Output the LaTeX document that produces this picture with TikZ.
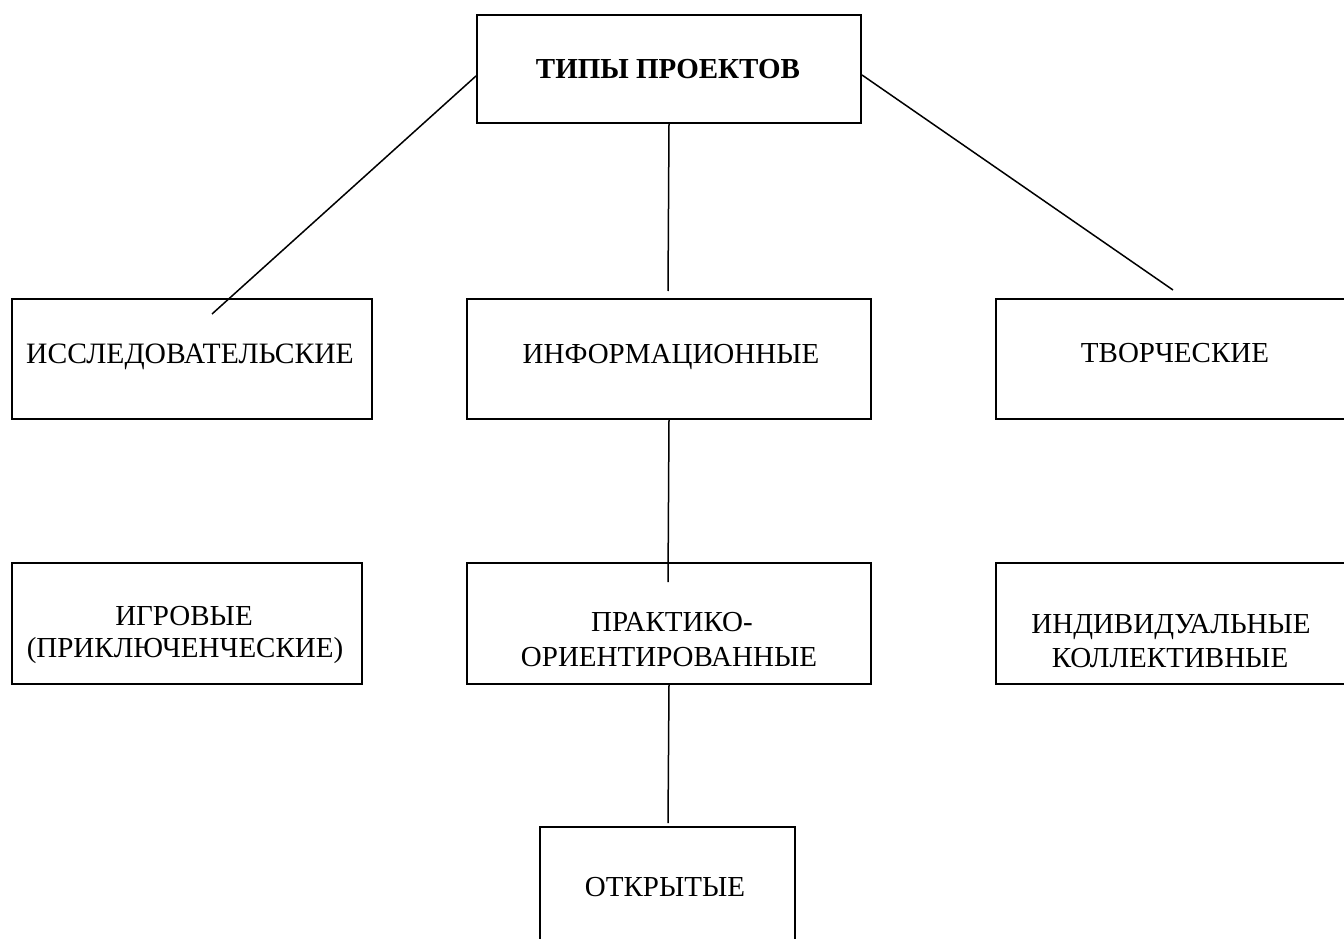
\documentclass[tikz,border=0pt]{standalone}
\usepackage{fontspec}
\setmainfont{Liberation Serif}
\begin{document}
\begin{tikzpicture}[x=1pt,y=-1pt,
  box/.style={draw=black,line width=2pt,rectangle,inner sep=0pt,anchor=north west},
  lbl/.style={inner sep=0pt,anchor=base,font=\fontsize{29}{32}\selectfont},
  conn/.style={draw=black,line width=1.5pt}]
\useasboundingbox (0,0) rectangle (1344,939);
% boxes
\node[box,minimum width=384pt,minimum height=108pt] (tp) at (476,14) {};
\node[box,minimum width=360pt,minimum height=120pt] (isl) at (11,298) {};
\node[box,minimum width=404pt,minimum height=120pt] (inf) at (466,298) {};
\node[box,minimum width=360pt,minimum height=120pt] (tvo) at (995,298) {};
\node[box,minimum width=350pt,minimum height=121pt] (igr) at (11,562) {};
\node[box,minimum width=404pt,minimum height=121pt] (pra) at (466,562) {};
\node[box,minimum width=360pt,minimum height=121pt] (ind) at (995,562) {};
\node[box,minimum width=255pt,minimum height=130pt] (otk) at (539,826) {};
% labels
\node[lbl,font=\fontsize{29}{32}\selectfont\bfseries] (tpt) at (668,79) {ТИПЫ ПРОЕКТОВ};
\node[lbl,font=\fontsize{29.6}{32}\selectfont] (islt) at (190,363) {ИССЛЕДОВАТЕЛЬСКИЕ};
\node[lbl] (inft) at (671,363) {ИНФОРМАЦИОННЫЕ};
\node[lbl] (tvot) at (1175,362) {ТВОРЧЕСКИЕ};
\node[lbl] (igrt1) at (184,625) {ИГРОВЫЕ};
\node[lbl] (igrt2) at (185,657) {(ПРИКЛЮЧЕНЧЕСКИЕ)};
\node[lbl] (prat1) at (672,631) {ПРАКТИКО-};
\node[lbl] (prat2) at (669,666) {ОРИЕНТИРОВАННЫЕ};
\node[lbl] (indt1) at (1171,633) {ИНДИВИДУАЛЬНЫЕ};
\node[lbl] (indt2) at (1170,667) {КОЛЛЕКТИВНЫЕ};
\node[lbl] (otkt) at (665,896) {ОТКРЫТЫЕ};
% connector ends
\coordinate (c1) at (212,314);
\coordinate (c2) at (668,291);
\coordinate (c3) at (1173,290);
\coordinate (c4) at (668,582);
\coordinate (c5) at (668,823);
% connectors
\draw[conn] ([yshift=-7pt]tp.west) -- (c1);
\draw[conn] (tp.south) -- (c2);
\draw[conn] ([yshift=-6pt]tp.east) -- (c3);
\draw[conn] (inf.south) -- (c4);
\draw[conn] (pra.south) -- (c5);
\end{tikzpicture}
\end{document}
